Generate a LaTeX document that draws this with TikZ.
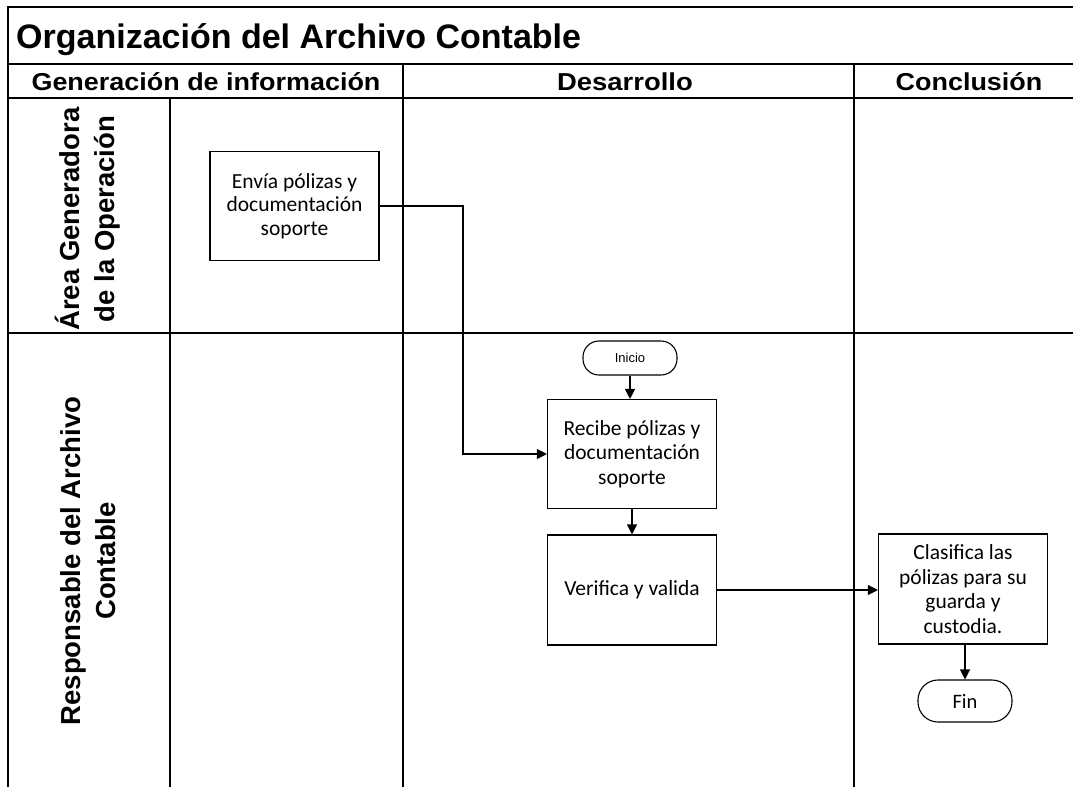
\documentclass[tikz,border=0pt]{standalone}
\usepackage{fontspec}
\usepackage{graphicx}
\setmainfont{Carlito}
\newfontfamily\arialf{Liberation Sans}
\usetikzlibrary{arrows.meta,calc}
\tikzset{
  grid/.style={line width=1.8pt, black},
  procbox/.style={draw, line width=1.1pt, minimum width=169pt, minimum height=109pt, align=center, inner sep=0pt, font=\fontsize{21.5}{24.5}\selectfont},
  terminal/.style={draw, line width=1.1pt, rounded corners=16pt, minimum width=94pt, inner sep=0pt},
  conn/.style={line width=1.1pt, -{Triangle[length=10pt,width=10pt]}},
  hdr/.style={font=\arialf\bfseries\fontsize{24.5}{28}\selectfont, inner sep=0pt, anchor=base},
  lane/.style={font=\arialf\bfseries\fontsize{27.5}{35}\selectfont, align=center, rotate=90, inner sep=0pt}
}
\begin{document}
\begin{tikzpicture}[x=1pt,y=-1pt]
\useasboundingbox (0,0) rectangle (1073,787);
% grid
\draw[grid] (8,787) -- (8,7) -- (1073,7);
\draw[grid] (8,64) -- (1073,64);
\draw[grid] (8,98) -- (1073,98);
\draw[grid] (8,333) -- (1073,333);
\draw[grid] (170,98) -- (170,787);
\draw[grid] (403,64) -- (403,787);
\draw[grid] (854,64) -- (854,787);
% title and headers
\node[anchor=base west, font=\arialf\bfseries\fontsize{34}{40}\selectfont, inner sep=0pt] (title) at (16,48) {Organización del Archivo Contable};
\node[hdr] (h1) at (206,90) {\scalebox{1.1}[1]{Generación de información}};
\node[hdr] (h2) at (625,90) {\scalebox{1.12}[1]{Desarrollo}};
\node[hdr] (h3) at (969,90) {\scalebox{1.1}[1]{Conclusión}};
% lane labels
\node[lane] (l1) at (88,219) {Área Generadora\\de la Operación};
\node[lane] (l2) at (88,561) {Responsable del Archivo\\Contable};
% nodes
\node[procbox, font=\fontsize{21.5}{23.5}\selectfont] (envia) at (294.5,206) {Envía pólizas y\\documentación\\soporte};
\node[terminal, minimum height=34pt, font=\arialf\fontsize{13}{15}\selectfont] (inicio) at (630,358) {Inicio};
\node[procbox] (recibe) at (632,454) {Recibe pólizas y\\documentación\\soporte};
\node[procbox, minimum height=110pt] (verifica) at (632,590) {Verifica y valida};
\node[procbox, minimum height=110pt] (clasifica) at (963,589) {Clasifica las\\pólizas para su\\guarda y\\custodia.};
\node[terminal, minimum height=42pt, rounded corners=20pt, font=\fontsize{20.5}{23}\selectfont] (fin) at (965,701) {Fin};
% connectors
\coordinate (bend) at (463,206);
\draw[conn] (envia.east) -- (bend) |- (recibe.west);
\draw[conn] (inicio.south) -- (inicio.south |- recibe.north);
\draw[conn] (recibe.south) -- (recibe.south |- verifica.north);
\draw[conn] (verifica.east) -- (verifica.east -| clasifica.west);
\draw[conn] (fin.north |- clasifica.south) -- (fin.north);
\end{tikzpicture}
\end{document}
